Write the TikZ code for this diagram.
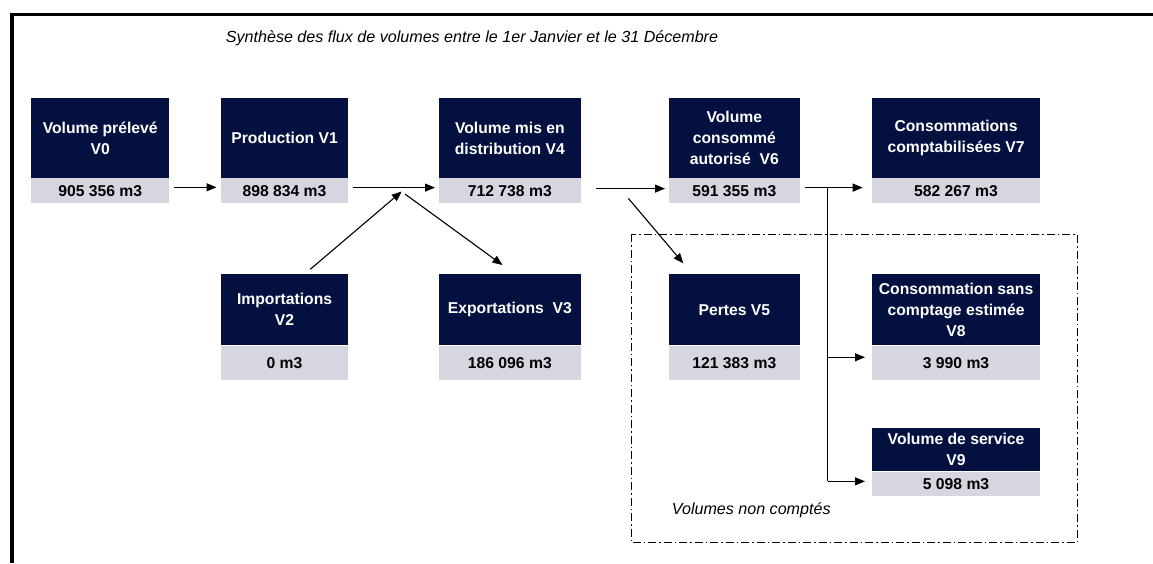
\documentclass[tikz,border=0pt]{standalone}
\usepackage{fontspec}
\setmainfont{Liberation Sans}
\usetikzlibrary{arrows.meta,positioning}
\definecolor{navy}{RGB}{3,16,64}
\definecolor{band}{RGB}{214,214,224}
\begin{document}
\begin{tikzpicture}[
  x=1pt, y=-1pt,
  head/.style={fill=navy,text=white,font=\bfseries\fontsize{15.7}{21}\selectfont,align=center,inner sep=0pt,anchor=north west},
  val/.style={fill=band,text=black,font=\bfseries\fontsize{15.7}{18}\selectfont,inner sep=0pt},
  note/.style={font=\itshape\fontsize{16.1}{18}\selectfont,inner sep=0pt,anchor=base west},
  flow/.style={-{Triangle[length=10pt,width=8pt]},line width=1.1pt},
  branch/.style={line width=1.1pt},
  uncounted/.style={line width=0.9pt,dash pattern=on 8pt off 3pt on 1.5pt off 3pt}
]
\useasboundingbox (0,0) rectangle (1153,563);
% Outer frame and titles
\draw[line width=3.5pt,line join=miter] (1153,14.7) -- (12,14.7) -- (12,563);
\node[note] (title) at (225.7,42.5) {Synthèse des flux de volumes entre le 1er Janvier et le 31 Décembre};
\draw[uncounted] (631,234.3) rectangle (1077,542.7);
\node[note] (nclabel) at (671.7,514) {Volumes non comptés};
% Top row
\node[head,minimum width=138pt,minimum height=80pt] (v0) at (31,97.7) {Volume prélevé\\V0};
\node[val,minimum width=138pt,minimum height=25pt,below=0pt of v0] (v0m) {905 356 m3};
\node[head,minimum width=126.7pt,minimum height=80pt] (v1) at (221,97.7) {Production V1};
\node[val,minimum width=126.7pt,minimum height=25pt,below=0pt of v1] (v1m) {898 834 m3};
\node[head,minimum width=142.7pt,minimum height=80pt] (v4) at (438.3,97.7) {Volume mis en\\distribution V4};
\node[val,minimum width=142.7pt,minimum height=25pt,below=0pt of v4] (v4m) {712 738 m3};
\node[head,minimum width=131.7pt,minimum height=80pt] (v6) at (668.3,97.7) {Volume\\consommé\\autorisé~ V6};
\node[val,minimum width=131.7pt,minimum height=25pt,below=0pt of v6] (v6m) {591 355 m3};
\node[head,minimum width=168.3pt,minimum height=80pt] (v7) at (871.7,97.7) {Consommations\\comptabilisées V7};
\node[val,minimum width=168.3pt,minimum height=25pt,below=0pt of v7] (v7m) {582 267 m3};
% Second row
\node[head,minimum width=126.7pt,minimum height=71pt] (v2) at (221,274) {Importations\\V2};
\node[val,minimum width=126.7pt,minimum height=34.3pt,below=0pt of v2] (v2m) {0 m3};
\node[head,minimum width=142.7pt,minimum height=71pt] (v3) at (438.3,274) {Exportations~ V3};
\node[val,minimum width=142.7pt,minimum height=34.3pt,below=0pt of v3] (v3m) {186 096 m3};
\node[head,minimum width=131.7pt,minimum height=71pt] (v5) at (668.3,274) {Pertes V5};
\node[val,minimum width=131.7pt,minimum height=34.3pt,below=0pt of v5] (v5m) {121 383 m3};
\node[head,minimum width=168.3pt,minimum height=71pt] (v8) at (871.7,274) {Consommation sans\\comptage estimée\\V8};
\node[val,minimum width=168.3pt,minimum height=34.3pt,below=0pt of v8] (v8m) {3 990 m3};
\node[head,minimum width=168.3pt,minimum height=43.7pt] (v9) at (871.7,427.3) {Volume de service\\V9};
\node[val,minimum width=168.3pt,minimum height=24.7pt,below=0pt of v9] (v9m) {5 098 m3};
% Flows
\coordinate (jin) at (401.7,191.5);
\coordinate (jout) at (405,194);
\coordinate (lout) at (628.3,198.3);
\coordinate (split) at ([xshift=-44.2pt,yshift=3.2pt]v7m.west);
\draw[flow] ([xshift=5pt,yshift=3.5pt]v0m.east) -- ([xshift=-4.5pt,yshift=3.5pt]v1m.west);
\draw[flow] ([xshift=5.3pt,yshift=3.2pt]v1m.east) -- ([xshift=-3.3pt,yshift=3.2pt]v4m.west);
\draw[flow] ([xshift=25.7pt,yshift=4.7pt]v2.north) -- (jin);
\draw[flow] (jout) -- ([xshift=-7.4pt,yshift=9pt]v3.north);
\draw[flow] ([xshift=15pt,yshift=2.2pt]v4m.east) -- ([xshift=-3.3pt,yshift=2.2pt]v6m.west);
\draw[flow] (lout) -- ([xshift=15pt,yshift=10.7pt]v5.north west);
\draw[flow] ([xshift=5pt,yshift=3.2pt]v6m.east) -- ([xshift=-9pt,yshift=3.2pt]v7m.west);
\draw[branch] (split) -- ([yshift=2.6pt]v9m.west -| split);
\draw[flow] ([yshift=5.5pt]v8m.west -| split) -- ([xshift=-6.7pt,yshift=5.5pt]v8m.west);
\draw[flow] ([yshift=2.6pt]v9m.west -| split) -- ([xshift=-6.7pt,yshift=2.6pt]v9m.west);
\end{tikzpicture}
\end{document}
